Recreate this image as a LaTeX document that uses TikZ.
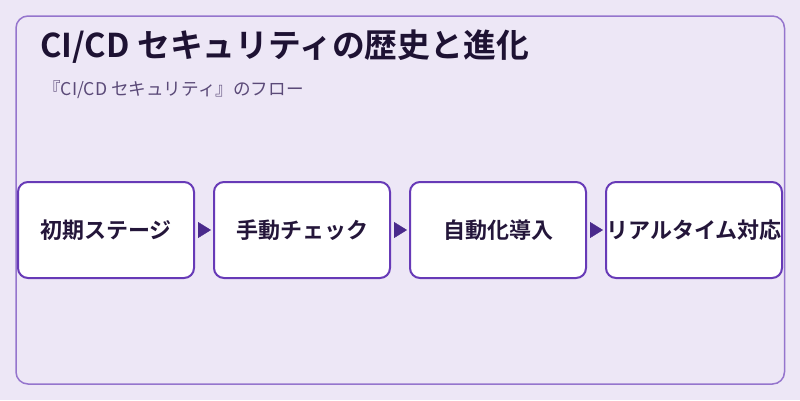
\documentclass[tikz,border=0pt]{standalone}
\usepackage{fontspec}
\setmainfont{Noto Sans CJK JP}[BoldFont={Noto Sans CJK JP Bold}]
\usetikzlibrary{positioning,arrows.meta}

\definecolor{bgpurple}{HTML}{EDE7F6}
\definecolor{panelline}{HTML}{9575CD}
\definecolor{stageline}{HTML}{673AB7}
\definecolor{arrowink}{HTML}{4A2A8C}
\definecolor{titleink}{HTML}{1E1233}
\definecolor{subink}{HTML}{5B4A78}
\definecolor{stageink}{HTML}{24163A}

\tikzset{
  stage/.style={draw=stageline, line width=2pt, fill=white, rounded corners=10pt,
    minimum width=176pt, minimum height=96pt, inner sep=0pt, text=stageink,
    font=\bfseries\fontsize{22}{26}\selectfont},
  flowarrow/.style={draw=arrowink, line width=0.4pt, shorten <=3pt, shorten >=2pt,
    -{Triangle[length=13pt,width=16pt,fill=arrowink]}}
}

\begin{document}
\begin{tikzpicture}[x=1pt, y=-1pt]
    \useasboundingbox[fill=bgpurple] (0,0) rectangle (800,400);
    \draw[panelline, line width=1.5pt, rounded corners=12pt] (16,16) rectangle (784.5,384);

    % heading
    \node[anchor=west, inner sep=0pt, text=titleink, font=\bfseries\fontsize{32.8}{38}\selectfont] (title) at (40,47) {CI/CD セキュリティの歴史と進化};
    \node[anchor=west, inner sep=0pt, text=subink, font=\fontsize{17.6}{21}\selectfont] (subtitle) at (43,90) {『CI/CD セキュリティ』のフロー};

    % stages
    \node[stage] (early) at (106,230) {初期ステージ};
    \node[stage, right=18pt of early] (manual) {手動チェック};
    \node[stage, right=18pt of manual] (auto) {自動化導入};
    \node[stage, right=18pt of auto] (realtime) {リアルタイム対応};

    \foreach \a/\b in {early/manual, manual/auto, auto/realtime}
        \draw[flowarrow] (\a) -- (\b);
\end{tikzpicture}
\end{document}
